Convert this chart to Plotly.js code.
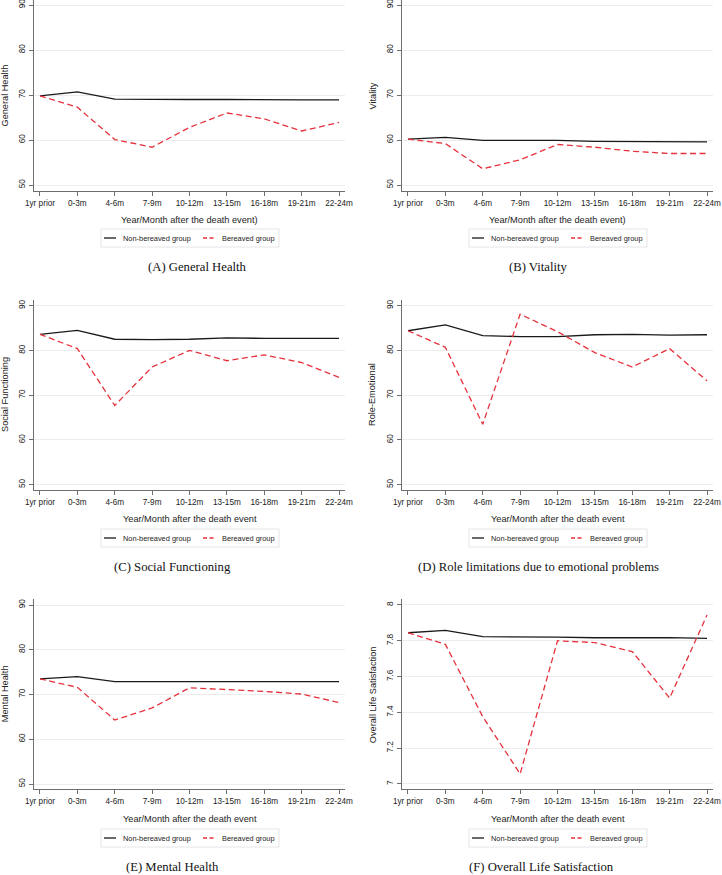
<!DOCTYPE html>
<html>
<head>
<meta charset="utf-8">
<script src="https://cdn.plot.ly/plotly-3.0.1.min.js"></script>
<style>html,body{margin:0;padding:0;background:#fff;}#chart{width:722px;height:875px;}</style>
</head>
<body>
<div id="chart"></div>
<script>
// ---- data ----
const categories = ['1yr prior','0-3m','4-6m','7-9m','10-12m','13-15m','16-18m','19-21m','22-24m'];
const seriesNames = ['Non-bereaved group','Bereaved group'];
const ghNon  = [69.8,70.7,69.1,69.0,69.0,69.0,68.9,68.9,68.9];
const ghBer  = [69.8,67.3,60.1,58.4,62.8,66.0,64.7,62.0,63.9];
const vitNon = [60.2,60.6,59.9,59.9,59.9,59.7,59.7,59.6,59.6];
const vitBer = [60.2,59.2,53.6,55.6,59.0,58.4,57.5,57.0,57.0];
const sfNon  = [83.6,84.5,82.5,82.4,82.5,82.8,82.7,82.7,82.7];
const sfBer  = [83.6,80.4,67.7,76.3,80.0,77.7,79.0,77.3,74.0];
const reNon  = [84.4,85.7,83.3,83.1,83.1,83.5,83.6,83.4,83.5];
const reBer  = [84.4,80.7,63.5,88.1,84.2,79.5,76.3,80.4,73.2];
const mhNon  = [73.5,74.0,72.9,72.9,72.9,72.9,72.9,72.9,72.9];
const mhBer  = [73.5,71.6,64.3,67.0,71.5,71.1,70.7,70.1,68.2];
const lsNon  = [7.845,7.858,7.823,7.823,7.820,7.817,7.817,7.818,7.813];
const lsBer  = [7.845,7.780,7.376,7.056,7.800,7.790,7.740,7.480,7.944];
const sfTicks = [50,60,70,80,90];
const lsTicks = [7,7.2,7.4,7.6,7.8,8];
const lsTickText = ['7','7.2','7.4','7.6','7.8','8'];
const yTitles = ['General Health','Vitality','Social Functioning','Role-Emotional','Mental Health','Overall Life Satisfaction'];
const xTitles = ['Year/Month after the death event)','Year/Month after the death event)','Year/Month after the death event','Year/Month after the death event','Year/Month after the death event','Year/Month after the death event'];
const captions = ['(A) General Health','(B) Vitality','(C) Social Functioning','(D) Role limitations due to emotional problems','(E) Mental Health','(F) Overall Life Satisfaction'];

// ---- layout geometry (pixels) ----
const W = 722, H = 875;
const px = v => v / W, py = v => 1 - v / H;
const panels = [
  {non: ghNon, ber: ghBer, x0: 34, x1: 345, y0: 0,   y1: 191,   range: [48.667, 91.11], ticks: sfTicks, ttext: null, ytx: 5,   capx: 197, tl: 202, xt: 220, lg: 238, cap: 267},
  {non: vitNon, ber: vitBer, x0: 402, x1: 713, y0: 0, y1: 191,  range: [48.667, 91.11], ticks: sfTicks, ttext: null, ytx: 373, capx: 538, tl: 202, xt: 220, lg: 238, cap: 267},
  {non: sfNon, ber: sfBer, x0: 34, x1: 345, y0: 300, y1: 490,   range: [48.81, 91.27], ticks: sfTicks, ttext: null, ytx: 5,   capx: 172, tl: 501, xt: 519, lg: 538, cap: 567},
  {non: reNon, ber: reBer, x0: 402, x1: 713, y0: 300, y1: 490,  range: [48.81, 91.27], ticks: sfTicks, ttext: null, ytx: 372, capx: 538, tl: 501, xt: 519, lg: 538, cap: 567},
  {non: mhNon, ber: mhBer, x0: 34, x1: 345, y0: 599, y1: 789.3, range: [48.82, 91.34], ticks: sfTicks, ttext: null, ytx: 5,   capx: 172, tl: 800, xt: 819, lg: 838, cap: 867},
  {non: lsNon, ber: lsBer, x0: 402, x1: 713, y0: 599, y1: 789.3, range: [6.970, 8.0335], ticks: lsTicks, ttext: lsTickText, ytx: 373, capx: 541, tl: 800, xt: 819, lg: 838, cap: 867}
];

const black = '#1a1a1a', red = '#e6323c', axisCol = '#6e6e6e', gridCol = '#ececec';
const sans = 'Liberation Sans, Arial, sans-serif';
const serif = 'Liberation Serif, Times New Roman, serif';

const traces = [];
const layout = {
  width: W, height: H, autosize: false,
  margin: {l: 0, r: 0, t: 0, b: 0},
  paper_bgcolor: '#fff', plot_bgcolor: '#fff',
  showlegend: false,
  annotations: [], shapes: []
};

panels.forEach((p, i) => {
  const n = i + 1;
  const xa = n === 1 ? 'x' : 'x' + n, ya = n === 1 ? 'y' : 'y' + n;
  const xk = n === 1 ? 'xaxis' : 'xaxis' + n, yk = n === 1 ? 'yaxis' : 'yaxis' + n;
  traces.push({x: categories, y: p.non, xaxis: xa, yaxis: ya, type: 'scatter', mode: 'lines', name: seriesNames[0],
               line: {color: black, width: 1.3}, hoverinfo: 'skip'});
  traces.push({x: categories, y: p.ber, xaxis: xa, yaxis: ya, type: 'scatter', mode: 'lines', name: seriesNames[1],
               line: {color: red, width: 1.3, dash: '6px,3.5px'}, hoverinfo: 'skip'});
  layout[xk] = {
    domain: [px(p.x0), px(p.x1)], anchor: ya, type: 'category', range: [-0.16, 8.16],
    showline: true, linecolor: axisCol, linewidth: 1, ticks: 'outside', ticklen: 4, tickcolor: axisCol,
    showgrid: false, zeroline: false, tickfont: {family: sans, size: 8.2, color: '#222'}, tickangle: 0,
    ticklabeloverflow: 'allow', fixedrange: true
  };
  const yax = {
    domain: [py(p.y1), py(p.y0)], anchor: xa, range: p.range, tickmode: 'array', tickvals: p.ticks,
    showline: true, linecolor: axisCol, linewidth: 1, ticks: 'outside', ticklen: 4, tickcolor: axisCol,
    showgrid: true, gridcolor: gridCol, gridwidth: 1, zeroline: false, tickangle: -90,
    tickfont: {family: sans, size: 8.2, color: '#222'}, ticklabelstandoff: 1, ticklabeloverflow: 'allow',
    fixedrange: true
  };
  if (p.ttext) yax.ticktext = p.ttext;
  layout[yk] = yax;

  // y title
  layout.annotations.push({xref: 'paper', yref: 'paper', x: px(p.ytx), y: py((p.y0 + p.y1) / 2), text: yTitles[i],
    textangle: -90, showarrow: false, xanchor: 'center', yanchor: 'middle', font: {family: sans, size: 9.2, color: '#222'}});
  // x title
  layout.annotations.push({xref: 'paper', yref: 'paper', x: px((p.x0 + p.x1) / 2), y: py(p.xt), text: xTitles[i],
    showarrow: false, xanchor: 'center', yanchor: 'middle', font: {family: sans, size: 9.2, color: '#222'}});
  // caption
  layout.annotations.push({xref: 'paper', yref: 'paper', x: px(p.capx), y: py(p.cap), text: captions[i],
    showarrow: false, xanchor: 'center', yanchor: 'middle', font: {family: serif, size: 12.7, color: '#111'}});

  // legend box
  const cx = (p.x0 + p.x1) / 2, bl = Math.round(cx - 89), br = bl + 178;
  layout.shapes.push({type: 'rect', xref: 'paper', yref: 'paper', x0: px(bl), x1: px(br), y0: py(p.lg + 9), y1: py(p.lg - 9),
    line: {color: '#e6e6e6', width: 1}, fillcolor: 'rgba(0,0,0,0)', layer: 'below'});
  layout.shapes.push({type: 'line', xref: 'paper', yref: 'paper', x0: px(bl + 3), x1: px(bl + 15), y0: py(p.lg), y1: py(p.lg),
    line: {color: black, width: 1.3}});
  layout.shapes.push({type: 'line', xref: 'paper', yref: 'paper', x0: px(bl + 102), x1: px(bl + 115), y0: py(p.lg), y1: py(p.lg),
    line: {color: red, width: 1.3, dash: '4px,2.5px'}});
  layout.annotations.push({xref: 'paper', yref: 'paper', x: px(bl + 20), y: py(p.lg), text: seriesNames[0],
    showarrow: false, xanchor: 'left', yanchor: 'middle', font: {family: sans, size: 7.4, color: '#222'}});
  layout.annotations.push({xref: 'paper', yref: 'paper', x: px(bl + 119), y: py(p.lg), text: seriesNames[1],
    showarrow: false, xanchor: 'left', yanchor: 'middle', font: {family: sans, size: 7.4, color: '#222'}});
});

Plotly.newPlot('chart', traces, layout, {staticPlot: true, displayModeBar: false});
</script>
</body>
</html>
